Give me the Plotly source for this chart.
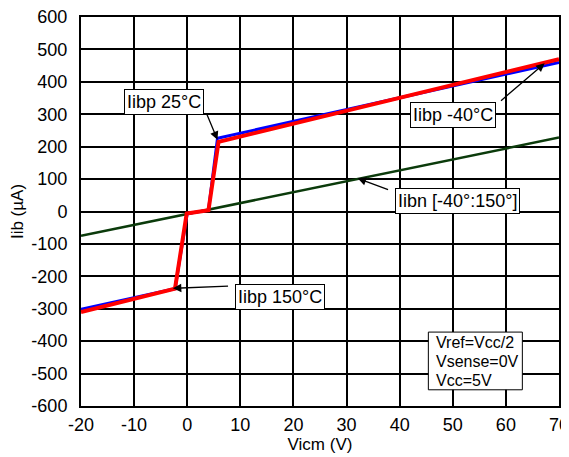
import plotly.graph_objects as go

# Iibp at -40°C (blue)
vicm_m40 = [-20, -2.3, 0, 4, 5.7, 70]
iib_m40 = [-302, -238, -6, 4, 226, 460]
# Iibp at 150°C (red)
vicm_150 = [-20, -2.3, -0.1, 4, 5.9, 70]
iib_150 = [-310, -238, -6, 4, 215, 470]
# Iibn [-40°:150°] (green)
vicm_n = [-20, 70]
iib_n = [-75, 228]

x_ticks = [-20, -10, 0, 10, 20, 30, 40, 50, 60, 70]
y_ticks = list(range(-600, 601, 100))

cond_lines = ["Vref=Vcc/2", "Vsense=0V", "Vcc=5V"]
cond_y = [-405, -463, -521]

FONT = "Arial, Liberation Sans, sans-serif"

fig = go.Figure()
fig.add_trace(go.Scatter(x=vicm_n, y=iib_n, mode="lines",
                         line=dict(color="#0b3b0b", width=2.5), showlegend=False))
fig.add_trace(go.Scatter(x=vicm_m40, y=iib_m40, mode="lines",
                         line=dict(color="#0000ff", width=3), showlegend=False))
fig.add_trace(go.Scatter(x=vicm_150, y=iib_150, mode="lines",
                         line=dict(color="#ff0000", width=4), showlegend=False))

box = dict(bgcolor="white", bordercolor="black", borderwidth=1, borderpad=2,
           font=dict(family=FONT, size=18, color="black"), showarrow=False)

anns = [
    dict(x=-4.46, y=339, text="Iibp 25°C", **box),
    dict(x=50.06, y=299, text="Iibp -40°C", **box),
    dict(x=50.8, y=32.5, text="Iibn [-40°:150°]", **box),
    dict(x=17.4, y=-265, text="Iibp 150°C", **box),
]
for t, yy in zip(cond_lines, cond_y):
    anns.append(dict(x=46.4, y=yy, text=t, xanchor="left", showarrow=False,
                     font=dict(family=FONT, size=16, color="black")))

arrows = [
    ((3.6, 304), (5.7, 221)),
    ((58.8, 338), (67.3, 457)),
    ((38.1, 66), (32.1, 102.5)),
    ((7.97, -230), (-2.7, -237)),
]
for (tx, ty), (hx, hy) in arrows:
    anns.append(dict(x=hx, y=hy, ax=tx, ay=ty, axref="x", ayref="y", text="",
                     showarrow=True, arrowhead=2, arrowsize=1.3, arrowwidth=1.3,
                     arrowcolor="black", standoff=0))

fig.add_shape(type="rect", x0=45.4, x1=63.1, y0=-550, y1=-372,
              line=dict(color="black", width=1), fillcolor="white", layer="above")

fig.update_layout(
    width=569, height=449,
    margin=dict(l=73, r=18, t=9, b=51),
    paper_bgcolor="white", plot_bgcolor="white",
    font=dict(family=FONT, size=18, color="black"),
    annotations=anns,
    xaxis=dict(range=[-20, 70], tickvals=x_ticks, ticktext=[str(v) for v in x_ticks],
               showgrid=True, gridcolor="black", gridwidth=1.5,
               showline=True, linecolor="black", linewidth=2, mirror=True,
               zeroline=False, ticks="", ticklabelstandoff=1, automargin=False,
               ticklabeloverflow="allow",
               title=dict(text="Vicm (V)", font=dict(size=17), standoff=0)),
    yaxis=dict(range=[-600, 600], tickvals=y_ticks, ticktext=[str(v) for v in y_ticks],
               showgrid=True, gridcolor="black", gridwidth=1.5,
               showline=True, linecolor="black", linewidth=2, mirror=True,
               zeroline=False, ticks="", ticklabelstandoff=8, automargin=False,
               ticklabeloverflow="allow",
               title=dict(text="Iib (µA)", font=dict(size=17), standoff=4)),
)

fig.write_html("out.html")
